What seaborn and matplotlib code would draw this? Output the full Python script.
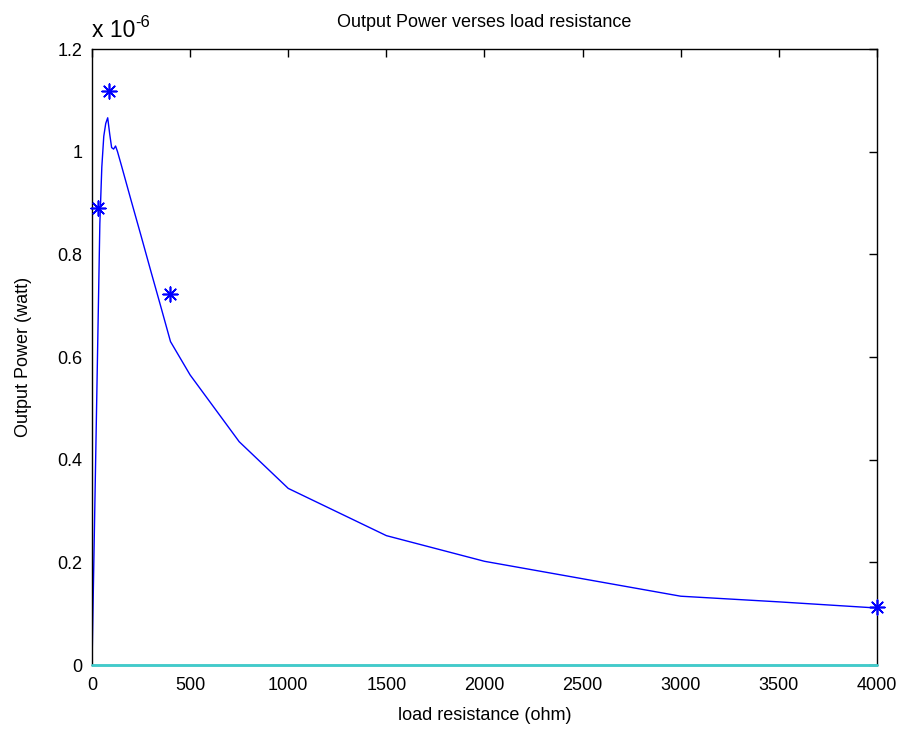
import matplotlib
matplotlib.use("Agg")
import matplotlib.pyplot as plt
import seaborn as sns
import pandas as pd
from matplotlib.ticker import FuncFormatter

# ---- data (power in units of 1e-6 W) ----
load_ohm = [0, 10, 20, 30, 40, 50, 60, 70, 80, 90, 100, 110, 120, 130, 150,
            200, 250, 300, 350, 400, 500, 750, 1000, 1500, 2000, 2500, 3000,
            3500, 4000]
power_uW = [0.0, 0.215, 0.43, 0.645, 0.86, 0.97, 1.03, 1.055, 1.066, 1.035,
            1.008, 1.005, 1.011, 1.0, 0.973, 0.904, 0.836, 0.767, 0.699, 0.63,
            0.565, 0.435, 0.344, 0.252, 0.202, 0.168, 0.134, 0.123, 0.111]
star_ohm = [33, 88, 400, 4000]
star_uW = [0.891, 1.118, 0.722, 0.113]
baseline_ohm = [0, 4000]
baseline_uW = [0.0, 0.0]

x_ticks = [0, 500, 1000, 1500, 2000, 2500, 3000, 3500, 4000]
y_ticks = [0, 0.2, 0.4, 0.6, 0.8, 1.0, 1.2]

title = "Output Power verses load resistance"
xlabel = "load resistance (ohm)"
ylabel = "Output Power (watt)"

sns.set_style("white")
plt.rcParams["font.family"] = ["Liberation Sans", "DejaVu Sans"]
plt.rcParams["text.color"] = "black"
plt.rcParams["axes.labelcolor"] = "black"
plt.rcParams["xtick.color"] = "black"
plt.rcParams["ytick.color"] = "black"

df = pd.DataFrame({"R": load_ohm, "P": power_uW})
df_s = pd.DataFrame({"R": star_ohm, "P": star_uW})
df_b = pd.DataFrame({"R": baseline_ohm, "P": baseline_uW})

fig = plt.figure(figsize=(9.03, 7.31), dpi=100)
ax = fig.add_axes([92 / 903, 66 / 731, (877 - 92) / 903, (665 - 49) / 731])

sns.lineplot(data=df, x="R", y="P", ax=ax, color="#0000FF", linewidth=1.0,
             estimator=None, sort=False)
sns.lineplot(data=df_b, x="R", y="P", ax=ax, color="#40CCCC", linewidth=2.0,
             estimator=None, sort=False, zorder=3, clip_on=False)
sns.scatterplot(data=df_s, x="R", y="P", ax=ax, color="#0000FF",
                marker=(8, 2, 0), s=110, linewidth=1.2, edgecolor="#0000FF",
                zorder=4, clip_on=False)

ax.set_xlim(0, 4000)
ax.set_ylim(0, 1.2)
ax.set_xticks(x_ticks)
ax.set_yticks(y_ticks)
ax.yaxis.set_major_formatter(FuncFormatter(lambda v, p: "%g" % round(v, 2)))
ax.xaxis.set_major_formatter(FuncFormatter(lambda v, p: "%g" % v))

for s in ax.spines.values():
    s.set_visible(True)
    s.set_color("black")
    s.set_linewidth(1.0)

ax.tick_params(axis="both", direction="in", length=6, width=1.0, color="black",
               labelsize=13, labelcolor="black", top=True, right=True)
ax.tick_params(axis="x", pad=9)
ax.tick_params(axis="y", pad=7)

ax.set_title(title, fontsize=13, pad=16, color="black")
ax.set_xlabel(xlabel, fontsize=13, labelpad=9, color="black")
ax.set_ylabel(ylabel, fontsize=13, labelpad=18, color="black")

ax.text(0.0, 1.0195, "x 10", transform=ax.transAxes, fontsize=16.5,
        ha="left", va="baseline", color="black")
ax.text(0.0545, 1.036, "-6", transform=ax.transAxes, fontsize=12,
        ha="left", va="baseline", color="black")

fig.savefig("out.png", dpi=100)
